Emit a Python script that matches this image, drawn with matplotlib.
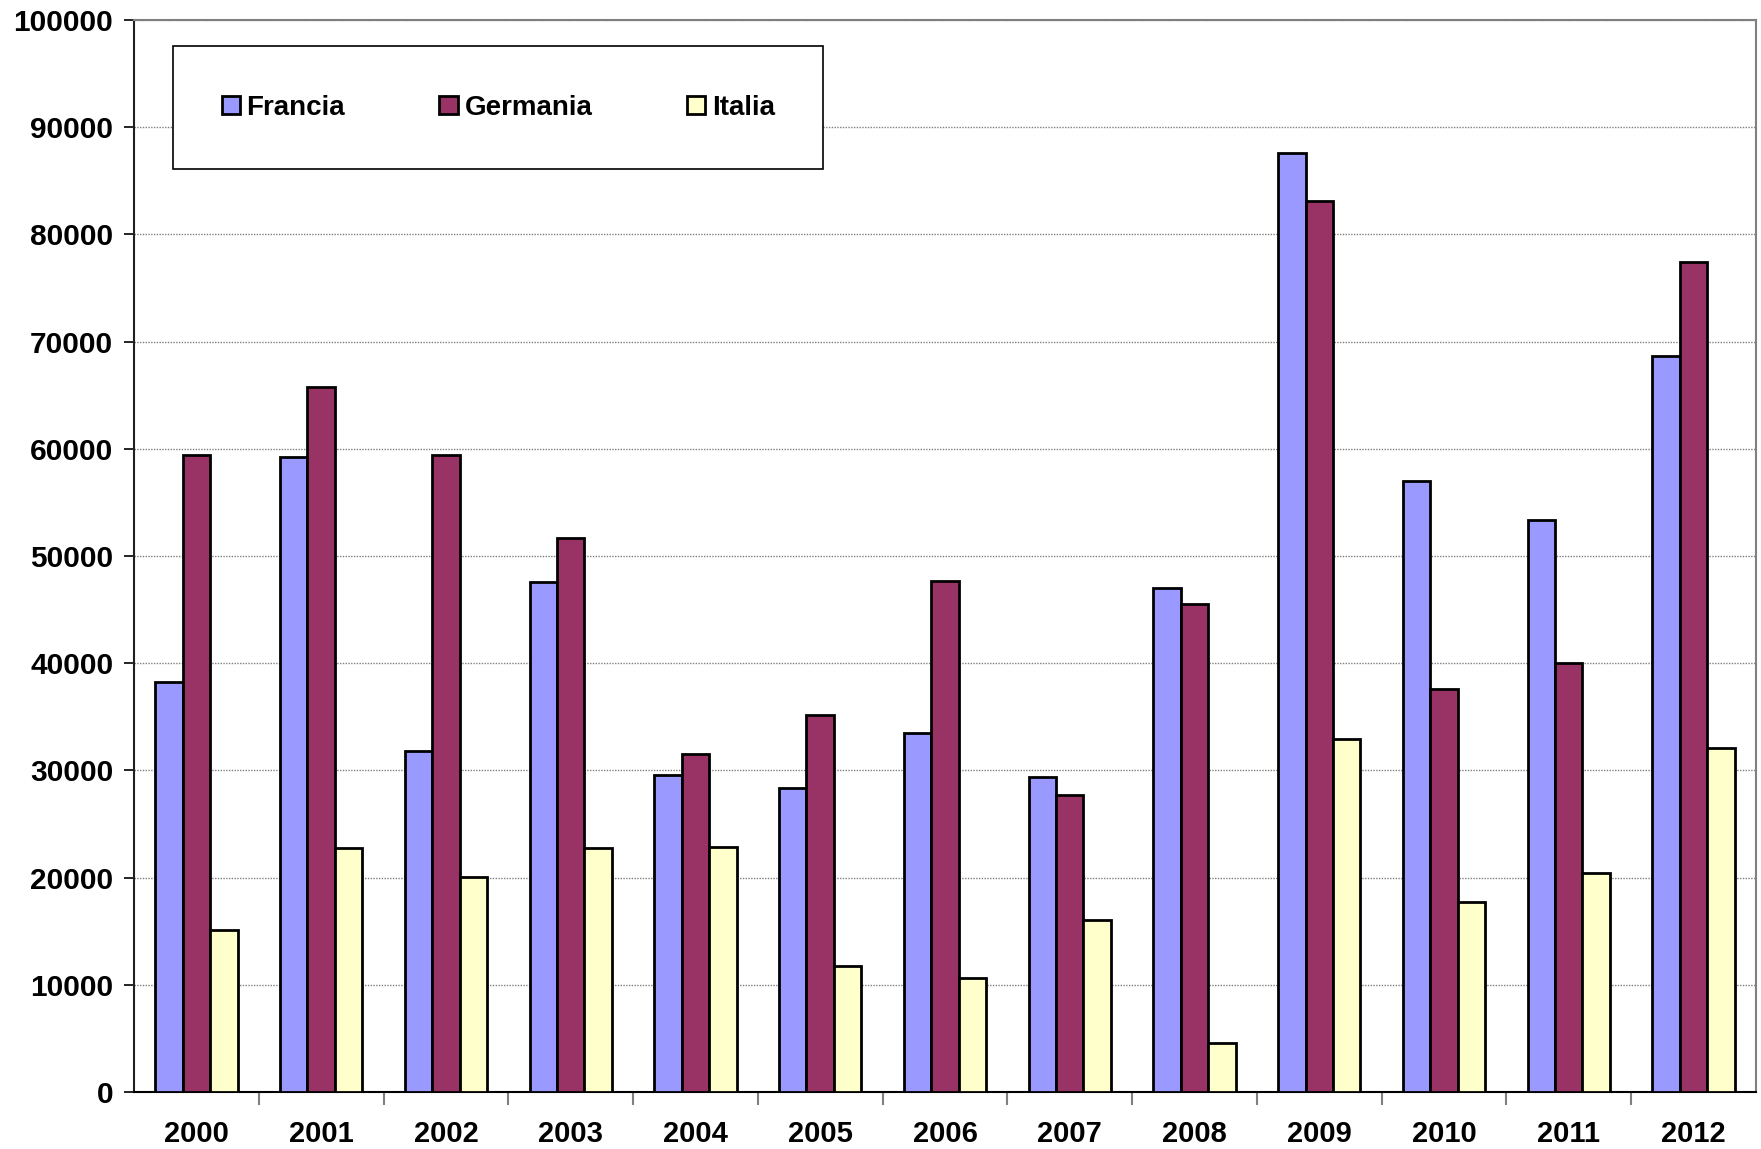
import numpy as np
import matplotlib

matplotlib.use("Agg")
import matplotlib.pyplot as plt
from matplotlib.ticker import MultipleLocator

years = ["2000", "2001", "2002", "2003", "2004", "2005", "2006",
         "2007", "2008", "2009", "2010", "2011", "2012"]
francia = [38200, 59200, 31800, 47600, 29600, 28400, 33500,
           29400, 47000, 87600, 57000, 53400, 68700]
germania = [59400, 65800, 59400, 51700, 31500, 35200, 47700,
            27700, 45500, 83100, 37600, 40000, 77400]
italia = [15100, 22800, 20100, 22800, 22900, 11800, 10600,
          16000, 4600, 32900, 17700, 20400, 32100]

series = [("Francia", francia, "#9999ff"),
          ("Germania", germania, "#993366"),
          ("Italia", italia, "#ffffcc")]

plt.rcParams["font.family"] = ["Liberation Sans", "DejaVu Sans"]
plt.rcParams["font.weight"] = "bold"

fig = plt.figure(figsize=(17.61, 11.49), dpi=100)
ax = fig.add_axes([0.0761, 0.0496, 0.921, 0.933])

x = np.arange(len(years))
w = 0.22
for k, (name, vals, col) in enumerate(series):
    ax.bar(x + (k - 1) * w, vals, width=w, color=col, edgecolor="black",
           linewidth=2, label=name, zorder=3)

ax.set_xlim(-0.5, len(years) - 0.5)
ax.set_ylim(0, 100000)
ax.yaxis.set_major_locator(MultipleLocator(10000))
ax.grid(axis="y", color="#808080", linestyle=(0, (1, 1)), linewidth=1, zorder=0)

ax.set_xticks(x)
ax.set_xticklabels(years)
ax.set_xticks(x[:-1] + 0.5, minor=True)
ax.tick_params(axis="x", which="major", length=0, pad=20, labelsize=21)
ax.tick_params(axis="x", which="minor", length=9, width=1.5, color="#808080")
ax.tick_params(axis="y", length=7, width=1.2, pad=8, labelsize=21.5)

for side in ("top", "right"):
    ax.spines[side].set_color("#808080")
    ax.spines[side].set_linewidth(1.5)
ax.spines["left"].set_color("#202020")
ax.spines["left"].set_linewidth(1.5)
ax.spines["bottom"].set_color("black")
ax.spines["bottom"].set_linewidth(1.5)

leg = ax.legend(ncol=3, loc="lower left", mode="expand",
                bbox_to_anchor=(0.024, 0.8606, 0.401, 0.115),
                fontsize=20, frameon=True, fancybox=False,
                handlelength=0.65, handleheight=0.65, handletextpad=0.25,
                borderpad=1.75, borderaxespad=0)
frame = leg.get_frame()
frame.set_edgecolor("black")
frame.set_linewidth(1.2)
frame.set_alpha(1)

fig.savefig("out.png", dpi=100)
